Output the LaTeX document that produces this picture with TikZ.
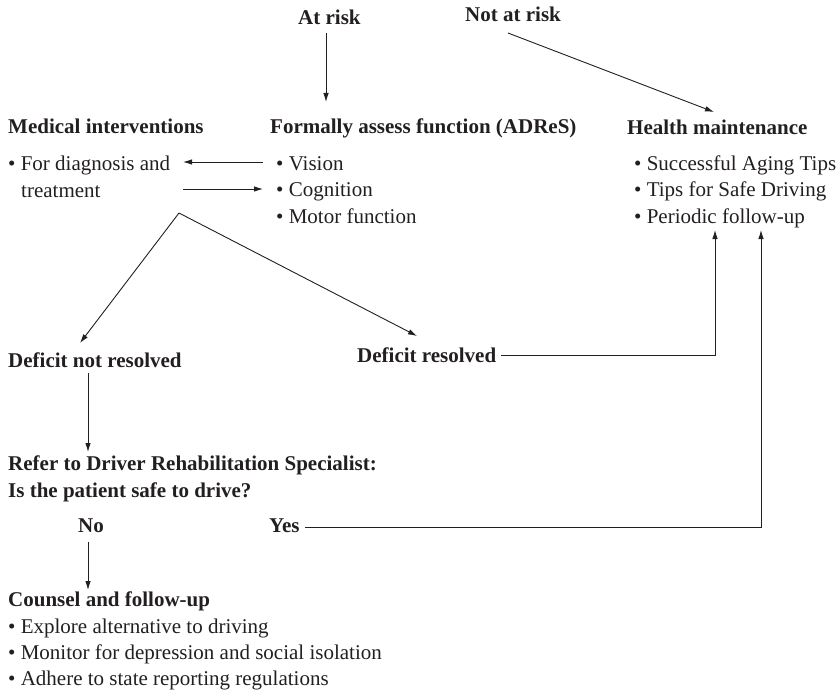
\documentclass[tikz,border=0pt]{standalone}
\usepackage{fontspec}
\setmainfont{Liberation Serif}
\usetikzlibrary{arrows.meta}
\definecolor{ink}{HTML}{231F20}
\begin{document}
\begin{tikzpicture}[x=1pt,y=-1pt,
  txt/.style={anchor=base west,inner sep=0pt,text=ink,font=\fontsize{21}{26}\selectfont},
  hd/.style={txt,font=\fontsize{21}{26}\selectfont\bfseries},
  arr/.style={-{Latex[length=9pt,width=5.5pt]},line width=0.9pt,draw=ink},
  ln/.style={line width=0.9pt,draw=ink}]
\useasboundingbox (0,0) rectangle (839,693);

% headings and item lists
\node[hd] (atrisk) at (298,25) {At risk};
\node[hd] (notrisk) at (465,22) {Not at risk};
\node[hd] (medical) at (8,133) {Medical interventions};
\node[hd] (assess) at (270,133) {Formally assess function (ADReS)};
\node[hd] (health) at (627,135) {Health maintenance};
\node[txt] (diag) at (8,170) {• For diagnosis and};
\node[txt] (treat) at (21,197) {treatment};
\node[txt] (vision) at (276,170) {• Vision};
\node[txt] (cogn) at (276,196) {• Cognition};
\node[txt] (motor) at (276,223) {• Motor function};
\node[txt] (aging) at (634,170) {• Successful Aging Tips};
\node[txt] (safe) at (634,196) {• Tips for Safe Driving};
\node[txt] (periodic) at (634,223) {• Periodic follow-up};
\node[hd] (notres) at (8,367) {Deficit not resolved};
\node[hd] (res) at (357,362) {Deficit resolved};
\node[hd] (refer) at (8,470) {Refer to Driver Rehabilitation Specialist:};
\node[hd] (issafe) at (8,497) {Is the patient safe to drive?};
\node[hd] (no) at (78,532) {No};
\node[hd] (yes) at (269,532) {Yes};
\node[hd] (counsel) at (8,606) {Counsel and follow-up};
\node[txt] (explore) at (8,633) {• Explore alternative to driving};
\node[txt] (monitor) at (8,659) {• Monitor for depression and social isolation};
\node[txt] (adhere) at (8,685) {• Adhere to state reporting regulations};

% connector end points
\coordinate (atA) at (326,33);   \coordinate (atB) at (326,102);
\coordinate (nrA) at (508,33);   \coordinate (nrB) at (714,112);
\coordinate (viA) at (263,162);  \coordinate (viB) at (183,162);
\coordinate (trA) at (183,189);  \coordinate (trB) at (263,189);
\coordinate (apex) at (179,213);
\coordinate (dnr) at (80,343);   \coordinate (dr) at (417,336);
\coordinate (nrsA) at (88,373);  \coordinate (nrsB) at (88,452);
\coordinate (resA) at (501,355); \coordinate (resC) at (715,355); \coordinate (resB) at (715,230);
\coordinate (yesA) at (305,527); \coordinate (yesC) at (761,527); \coordinate (yesB) at (761,230);
\coordinate (noA) at (88,542);   \coordinate (noB) at (88,590);

% connectors
\draw[arr] (atA) -- (atB);
\draw[arr] (nrA) -- (nrB);
\draw[arr] (viA) -- (viB);
\draw[arr] (trA) -- (trB);
\draw[arr] (apex) -- (dnr);
\draw[arr] (apex) -- (dr);
\draw[arr] (nrsA) -- (nrsB);
\draw[arr] (resA) -- (resC) -- (resB);
\draw[arr] (yesA) -- (yesC) -- (yesB);
\draw[arr] (noA) -- (noB);
\end{tikzpicture}
\end{document}
